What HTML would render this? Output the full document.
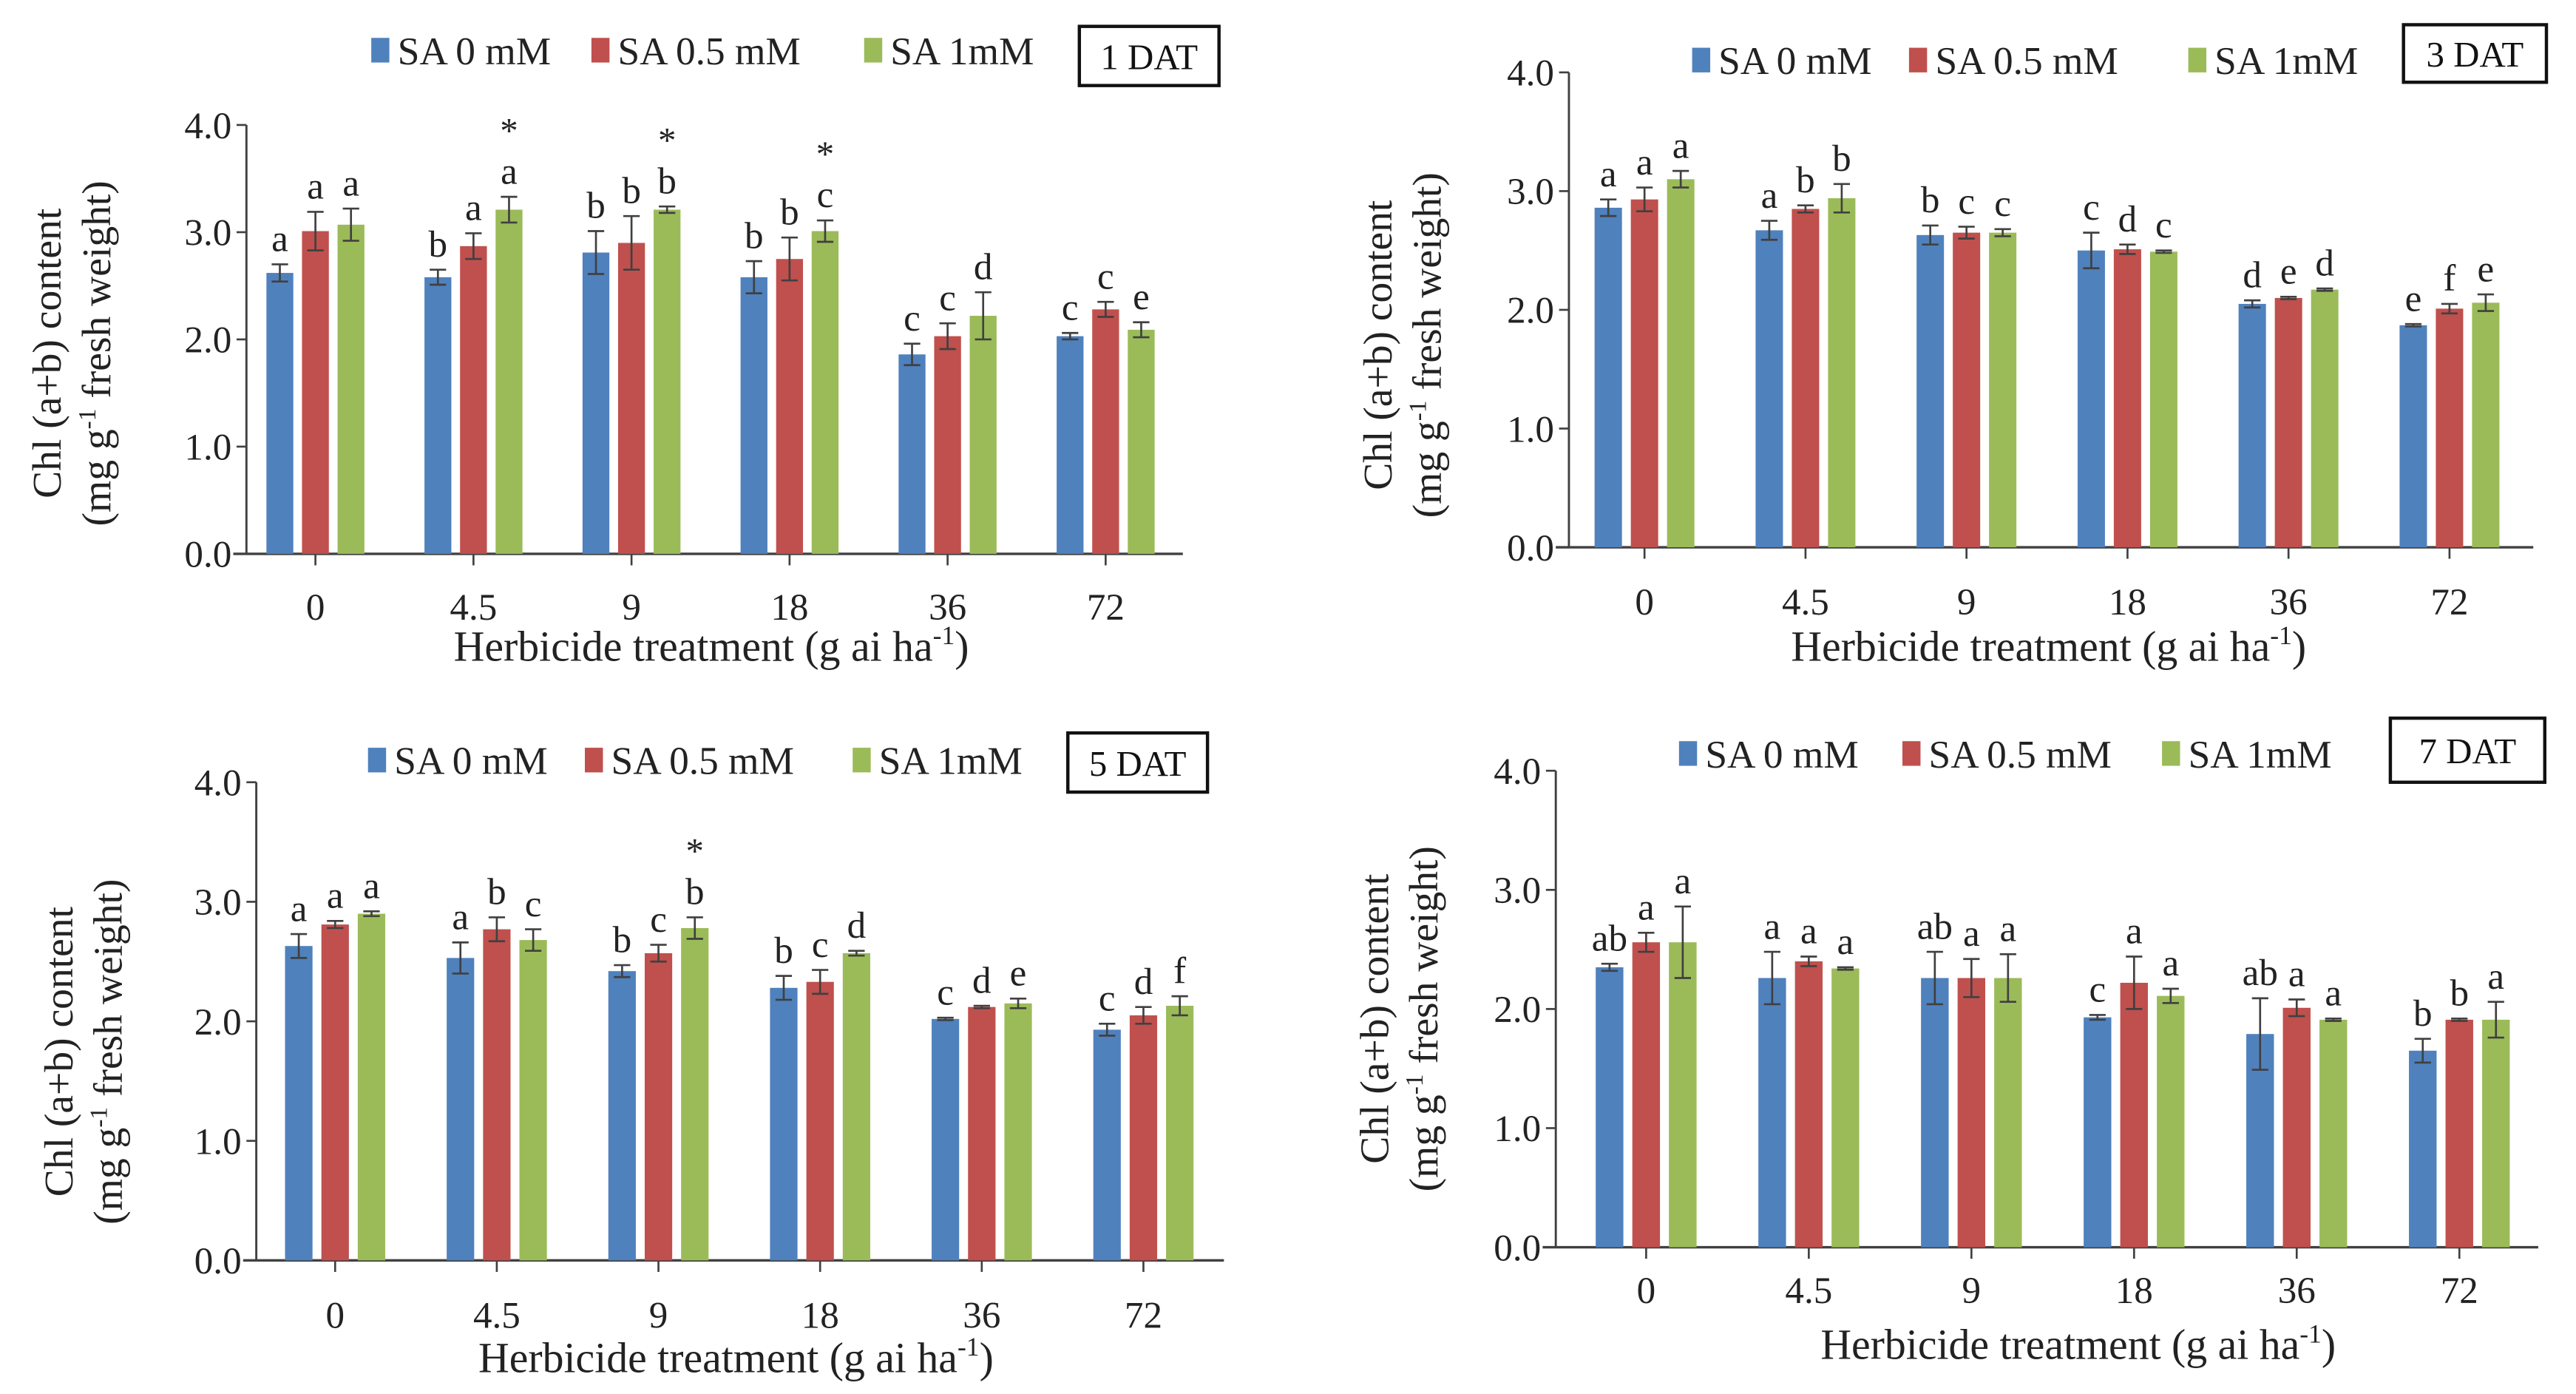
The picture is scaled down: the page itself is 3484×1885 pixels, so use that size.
<!DOCTYPE html>
<html><head><meta charset="utf-8">
<style>
html,body{margin:0;padding:0;background:#fff;}
svg, svg text, svg tspan{font-family:"Liberation Serif","Times New Roman",serif;}
</style></head>
<body>
<svg id="fig" width="3484" height="1880" viewBox="0 0 1568 846" font-family="Liberation Serif, serif" xmlns="http://www.w3.org/2000/svg"></svg>
<script>
const categories = ["0","4.5","9","18","36","72"];
const yTicks = [0,1,2,3,4];
const seriesNames = ["SA 0 mM","SA 0.5 mM","SA 1mM"];
const colors = ["#4F81BD","#C0504D","#9BBB59"];

// 1 DAT
const d1Blue = [2.62,2.58,2.81,2.58,1.86,2.03];
const d1Red = [3.01,2.87,2.90,2.75,2.03,2.28];
const d1Green = [3.07,3.21,3.21,3.01,2.22,2.09];
const e1Blue = [0.08,0.07,0.2,0.15,0.1,0.03];
const e1Red = [0.18,0.12,0.25,0.2,0.12,0.07];
const e1Green = [0.15,0.12,0.03,0.1,0.22,0.07];
const l1Blue = ["a","b","b","b","c","c"];
const l1Red = ["a","a","b","b","c","c"];
const l1Green = ["a","a","b","c","d","e"];
const s1Green = [0,1,1,1,0,0];
// 3 DAT
const d2Blue = [2.86,2.67,2.63,2.50,2.05,1.87];
const d2Red = [2.93,2.85,2.65,2.51,2.10,2.01];
const d2Green = [3.10,2.94,2.65,2.49,2.17,2.06];
const e2Blue = [0.07,0.08,0.08,0.15,0.03,0.01];
const e2Red = [0.1,0.03,0.05,0.04,0.01,0.04];
const e2Green = [0.07,0.12,0.03,0.01,0.01,0.07];
const l2Blue = ["a","a","b","c","d","e"];
const l2Red = ["a","b","c","d","e","f"];
const l2Green = ["a","b","c","c","d","e"];
const s2Green = [0,0,0,0,0,0];
// 5 DAT
const d3Blue = [2.63,2.53,2.42,2.28,2.02,1.93];
const d3Red = [2.81,2.77,2.57,2.33,2.12,2.05];
const d3Green = [2.90,2.68,2.78,2.57,2.15,2.13];
const e3Blue = [0.1,0.13,0.05,0.1,0.01,0.05];
const e3Red = [0.03,0.1,0.07,0.1,0.01,0.07];
const e3Green = [0.02,0.09,0.09,0.02,0.04,0.08];
const l3Blue = ["a","a","b","b","c","c"];
const l3Red = ["a","b","c","c","d","d"];
const l3Green = ["a","c","b","d","e","f"];
const s3Green = [0,0,1,0,0,0];
// 7 DAT
const d4Blue = [2.35,2.26,2.26,1.93,1.79,1.65];
const d4Red = [2.56,2.40,2.26,2.22,2.01,1.91];
const d4Green = [2.56,2.34,2.26,2.11,1.91,1.91];
const e4Blue = [0.03,0.22,0.22,0.02,0.3,0.1];
const e4Red = [0.08,0.04,0.16,0.22,0.07,0.01];
const e4Green = [0.3,0.01,0.2,0.06,0.01,0.15];
const l4Blue = ["ab","a","ab","c","ab","b"];
const l4Red = ["a","a","a","a","a","b"];
const l4Green = ["a","a","a","a","a","a"];
const s4Green = [0,0,0,0,0,0];

const NS = "http://www.w3.org/2000/svg";
const svg = document.getElementById("fig");
const FF = '"Liberation Serif", "Times New Roman", serif';
function mk(tag, attrs, parent, txt){
  const e = document.createElementNS(NS, tag);
  for (const k in attrs) e.setAttribute(k, attrs[k]);
  if (tag === "text") e.style.fontFamily = FF;
  if (txt !== undefined) e.textContent = txt;
  parent.appendChild(e);
  return e;
}

const panels = [
  {tag:"1 DAT", ax:150, y0:337, y4:76, t0:192, step:96.2, axEnd:720,
   vals:[d1Blue,d1Red,d1Green], errs:[e1Blue,e1Red,e1Green], lets:[l1Blue,l1Red,l1Green], stars:s1Green,
   legY:30, legX:[226,360,526], box:[657,16,85,36], yt:[28,58,215], xt:[433,393], tickY:369},
  {tag:"3 DAT", ax:955, y0:333, y4:44, t0:1001, step:98, axEnd:1542,
   vals:[d2Blue,d2Red,d2Green], errs:[e2Blue,e2Red,e2Green], lets:[l2Blue,l2Red,l2Green], stars:s2Green,
   legY:36, legX:[1030,1162,1332], box:[1463,15,87,35], yt:[838,868,210], xt:[1247,393], tickY:366},
  {tag:"5 DAT", ax:156, y0:767, y4:476, t0:204, step:98.4, axEnd:745,
   vals:[d3Blue,d3Red,d3Green], errs:[e3Blue,e3Red,e3Green], lets:[l3Blue,l3Red,l3Green], stars:s3Green,
   legY:462, legX:[224,356,519], box:[650,446,85,36], yt:[35,65,640], xt:[448,826], tickY:800},
  {tag:"7 DAT", ax:947, y0:759, y4:469, t0:1002, step:99, axEnd:1545,
   vals:[d4Blue,d4Red,d4Green], errs:[e4Blue,e4Red,e4Green], lets:[l4Blue,l4Red,l4Green], stars:s4Green,
   legY:458, legX:[1022,1158,1316], box:[1455,437,94,39], yt:[836,866,620], xt:[1265,818], tickY:785}
];

panels.forEach((p, pi) => {
  const g = mk("g", {}, svg);
  
  
  const yS = v => p.y0 - (p.y0 - p.y4) * v / 4;
  const xS = i => p.t0 + i * p.step;
  const bw = p.step * 0.17, off = p.step * 0.225;

  const yAxis = mk("line", {x1:p.ax, y1:p.y4, x2:p.ax, y2:p.y0, stroke:"#404040", "stroke-width":1.3}, g);
  
  
  yTicks.forEach(t => {
    const y = yS(t);
    mk("line", {x1:p.ax-6, y1:y, x2:p.ax, y2:y, stroke:"#404040", "stroke-width":1.2}, g);
    const tl = mk("text", {x:p.ax-9, y:y+8, "font-size":23, "text-anchor":"end", fill:"#222"}, g, t.toFixed(1));
    
    
  });
  const xAxis = mk("line", {x1:p.ax-8, y1:p.y0, x2:p.axEnd, y2:p.y0, stroke:"#404040", "stroke-width":1.5}, g);
  
  
  categories.forEach((c, i) => {
    const x = xS(i);
    mk("line", {x1:x, y1:p.y0, x2:x, y2:p.y0+7, stroke:"#404040", "stroke-width":1.2}, g);
    const xl = mk("text", {x:x, y:p.tickY+8, "font-size":23, "text-anchor":"middle", fill:"#222"}, g, c);
    
    
  });
  for (let s = 0; s < 3; s++) {
    p.vals[s].forEach((v, i) => {
      const cx = xS(i) + (s - 1) * off;
      const top = yS(v);
      const r = mk("rect", {x:cx-bw/2, y:top, width:bw, height:p.y0-top, fill:colors[s]}, g);
      
      
      const e = p.errs[s][i];
      const yt = yS(v + e), yb = yS(v - e);
      const eb = mk("path", {d:`M${cx},${yt}V${yb}M${cx-5},${yt}H${cx+5}M${cx-5},${yb}H${cx+5}`, stroke:"#404040", "stroke-width":1.2, fill:"none"}, g);
      
      
      const ly = yS(v + e) - 8;
      const lt = mk("text", {x:cx, y:ly, "font-size":23, "text-anchor":"middle", fill:"#222"}, g, p.lets[s][i]);
      
      
      if (s === 2 && p.stars[i]) {
        const st = mk("text", {x:cx, y:ly-25, "font-size":22, "text-anchor":"middle", fill:"#222"}, g, "*");
        
        
      }
    });
  }
  for (let s = 0; s < 3; s++) {
    const lx = p.legX[s];
    const lg = mk("g", {}, g);
    
    
    mk("rect", {x:lx, y:p.legY-7, width:11, height:15, fill:colors[s]}, lg);
    mk("text", {x:lx+16, y:p.legY+9, "font-size":24, fill:"#222"}, lg, seriesNames[s]);
  }
  const bg = mk("g", {}, g);
  
  
  mk("rect", {x:p.box[0], y:p.box[1], width:p.box[2], height:p.box[3], fill:"#fff", stroke:"#111", "stroke-width":2}, bg);
  mk("text", {x:p.box[0]+p.box[2]/2, y:p.box[1]+p.box[3]/2+8, "font-size":22, "text-anchor":"middle", fill:"#111"}, bg, p.tag);
  const yt1 = mk("text", {x:0, y:0, "font-size":25, "text-anchor":"middle", fill:"#222",
    transform:`translate(${p.yt[0]+9},${p.yt[2]}) rotate(-90)`}, g, "Chl (a+b) content");
  
  
  const yt2 = mk("text", {x:0, y:0, "font-size":25, "text-anchor":"middle", fill:"#222",
    transform:`translate(${p.yt[1]+9},${p.yt[2]}) rotate(-90)`}, g);
  
  
  mk("tspan", {}, yt2, "(mg g");
  mk("tspan", {dy:-9, "font-size":15}, yt2, "-1");
  mk("tspan", {dy:9}, yt2, " fresh weight)");
  const xt = mk("text", {x:p.xt[0], y:p.xt[1]+9, "font-size":26, "text-anchor":"middle", fill:"#222"}, g);
  
  
  mk("tspan", {}, xt, "Herbicide treatment (g ai ha");
  mk("tspan", {dy:-10, "font-size":16}, xt, "-1");
  mk("tspan", {dy:10}, xt, ")");
});
</script>
</body></html>
